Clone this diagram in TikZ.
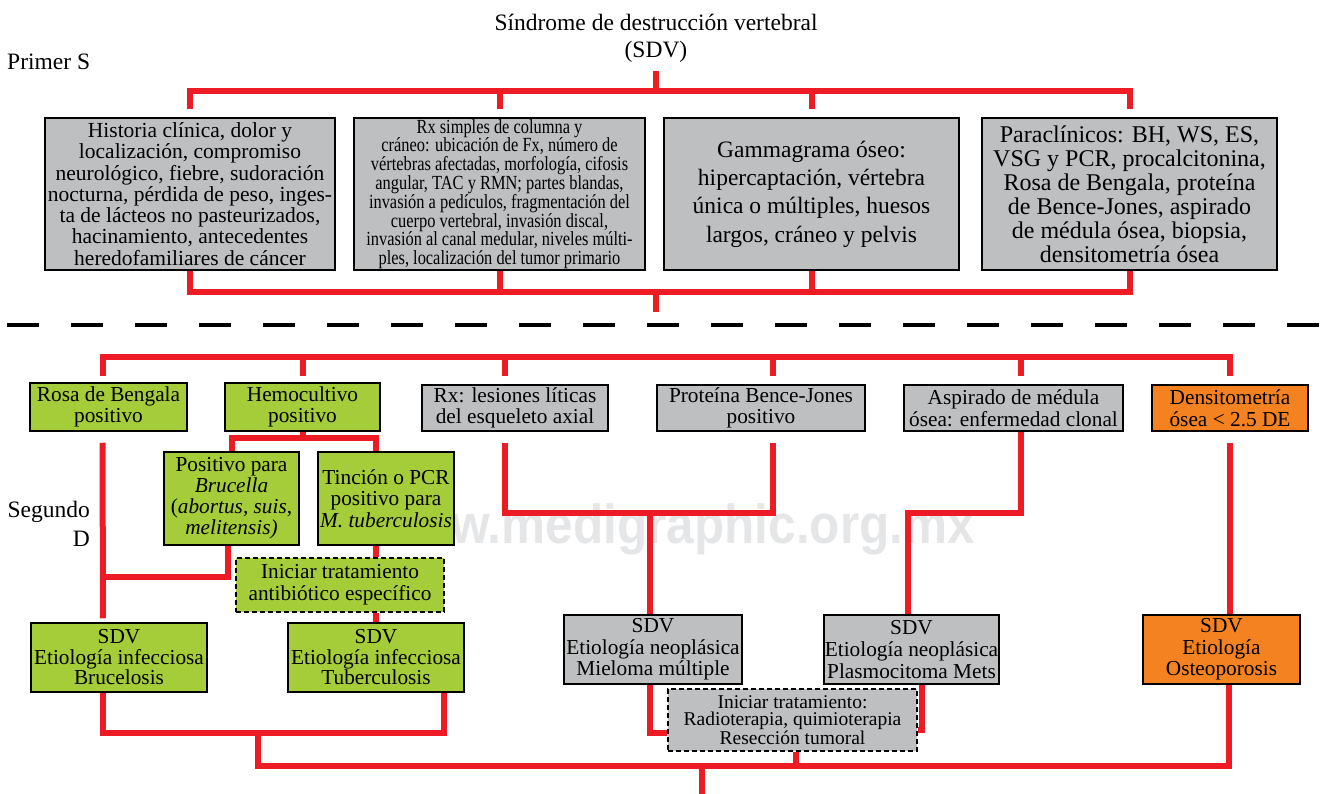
\documentclass[tikz,border=0pt]{standalone}
\usepackage{fontspec}
\setmainfont{Liberation Serif}
\newfontfamily\narrowfont{Liberation Serif}[FakeStretch=0.82]
\newfontfamily\markfont{Liberation Sans}[FakeStretch=0.9]
\usepackage{tikz}
\definecolor{boxgrey}{RGB}{190,191,193}
\definecolor{boxgreen}{RGB}{165,205,57}
\definecolor{boxorange}{RGB}{244,130,32}
\definecolor{linkred}{RGB}{237,28,36}
\definecolor{markgrey}{RGB}{229,230,232}

\begin{document}
\begin{tikzpicture}[x=1pt,y=-1pt,every node/.style={align=center,inner sep=0pt},
		greybox/.style={draw,line width=1.5pt,fill=boxgrey},
		greenbox/.style={draw,line width=1.5pt,fill=boxgreen},
		orangebox/.style={draw,line width=1.5pt,fill=boxorange},
		treatbox/.style={draw,line width=1.8pt,dash pattern=on 5pt off 3pt},
		link/.style={draw=linkred,line width=6pt},
		sidetext/.style={font=\fontsize{23.5}{29}\selectfont},
		lowertext/.style={font=\fontsize{21.3}{21.7}\selectfont}]
	\useasboundingbox (0,0) rectangle (1320,794);
	\node[anchor=base east,text=markgrey,font=\markfont\bfseries\fontsize{55}{55}\selectfont] (mark) at (975,543) {w.medigraphic.org.mx};

	\node[font=\fontsize{23.5}{27}\selectfont] (title) at (656,38) {Síndrome de destrucción vertebral\\(SDV)};
	\node[sidetext,anchor=base west] (primer) at (7,70) {Primer S};
	\node[sidetext,anchor=east,align=right] (segundo) at (90,524) {Segundo\\D};

	\node[greybox,minimum width=290,minimum height=152,font=\fontsize{21.5}{21.3}\selectfont] (hist) at (190,194)
		{Historia clínica, dolor y\\localización, compromiso\\neurológico, fiebre, sudoración\\nocturna, pérdida de peso, inges-\\ta de lácteos no pasteurizados,\\hacinamiento, antecedentes\\heredofamiliares de cáncer};
	\node[greybox,minimum width=291,minimum height=152,font=\narrowfont\fontsize{20}{18.8}\selectfont] (rxs) at (499.5,194)
		{Rx simples de columna y\\cráneo: ubicación de Fx, número de\\vértebras afectadas, morfología, cifosis\\angular, TAC y RMN; partes blandas,\\invasión a pedículos, fragmentación del\\cuerpo vertebral, invasión discal,\\invasión al canal medular, niveles múlti-\\ples, localización del tumor primario};
	\node[greybox,minimum width=295,minimum height=152,font=\fontsize{23.5}{28.3}\selectfont] (gamma) at (811.5,194)
		{Gammagrama óseo:\\hipercaptación, vértebra\\única o múltiples, huesos\\largos, cráneo y pelvis};
	\node[greybox,minimum width=295,minimum height=152,font=\fontsize{24}{24}\selectfont] (paracl) at (1129.5,194)
		{Paraclínicos: BH, WS, ES,\\VSG y PCR, procalcitonina,\\Rosa de Bengala, proteína\\de Bence-Jones, aspirado\\de médula ósea, biopsia,\\densitometría ósea};

	\node[greenbox,lowertext,minimum width=157,minimum height=48] (rosa) at (108.5,407) {Rosa de Bengala\\positivo};
	\node[greenbox,lowertext,minimum width=155,minimum height=48] (hemo) at (302.5,407) {Hemocultivo\\positivo};
	\node[greybox,lowertext,minimum width=186,minimum height=46] (rxlit) at (515,408) {Rx: lesiones líticas\\del esqueleto axial};
	\node[greybox,lowertext,minimum width=208,minimum height=46] (bence) at (761,408) {Proteína Bence-Jones\\positivo};
	\node[greybox,lowertext,minimum width=219,minimum height=46] (aspir) at (1013.5,408) {Aspirado de médula\\ósea: enfermedad clonal};
	\node[orangebox,lowertext,minimum width=156,minimum height=46] (densit) at (1230,408) {Densitometría\\ósea < 2.5 DE};

	\node[greenbox,font=\fontsize{21.3}{21}\selectfont,minimum width=135,minimum height=93] (brucella) at (231.5,498.5)
		{Positivo para\\\textit{Brucella}\\(\textit{abortus}, \textit{suis},\\\textit{melitensis)}};
	\node[greenbox,font=\fontsize{21.3}{21.7}\selectfont,minimum width=136,minimum height=93] (tincion) at (386,498.5)
		{Tinción o PCR\\positivo para\\\textit{M. tuberculosis}};
	\node[greenbox,treatbox,lowertext,minimum width=208,minimum height=54] (iniantib) at (340,585) {Iniciar tratamiento\\antibiótico específico};
	\node[greenbox,font=\fontsize{21.3}{20.5}\selectfont,minimum width=176,minimum height=69] (sdvbru) at (119,657.5) {SDV\\Etiología infecciosa\\Brucelosis};
	\node[greenbox,font=\fontsize{21.3}{20.5}\selectfont,minimum width=176,minimum height=69] (tuber) at (376,657.5) {SDV\\Etiología infecciosa\\Tuberculosis};

	\node[greybox,lowertext,minimum width=178,minimum height=69] (mieloma) at (653,649.5) {SDV\\Etiología neoplásica\\Mieloma múltiple};
	\node[greybox,lowertext,minimum width=175,minimum height=69] (plasmo) at (911.5,649.5) {SDV\\Etiología neoplásica\\Plasmocitoma Mets};
	\node[orangebox,lowertext,minimum width=157,minimum height=69] (osteo) at (1221.5,649.5) {SDV\\Etiología\\Osteoporosis};
	\node[greybox,treatbox,font=\fontsize{19.5}{17.5}\selectfont,minimum width=249,minimum height=62] (initrat) at (792.5,720)
		{Iniciar tratamiento:\\Radioterapia, quimioterapia\\Resección tumoral};

	\coordinate (topbar) at (656,91);
	\coordinate (botbar) at (656,292);
	\coordinate (primerend) at (656,312);
	\draw[link,shorten <=9pt] (title.south) -- (topbar);
	\draw[link,shorten <=8pt] (hist.north) |- (topbar);
	\draw[link,shorten <=8pt] (rxs.north) |- (topbar);
	\draw[link,shorten <=8pt] (gamma.north) |- (topbar);
	\draw[link,shorten <=8pt] (paracl.north) |- (topbar);
	\draw[link] (hist.south) |- (botbar);
	\draw[link] (rxs.south) |- (botbar);
	\draw[link] (gamma.south) |- (botbar);
	\draw[link] (paracl.south) |- (botbar);
	\draw[link] (botbar) -- (primerend);

	\draw[line width=3.3pt,dash pattern=on 32pt off 32pt] (7,325) -- (1320,325);

	\coordinate (segbar) at (656,357);
	\draw[link,shorten <=6pt] ([xshift=-6pt]rosa.north) |- (segbar);
	\draw[link,shorten <=6pt] (hemo.north) |- (segbar);
	\draw[link,shorten <=8pt] ([xshift=-10pt]rxlit.north) |- (segbar);
	\draw[link,shorten <=8pt] ([xshift=12pt]bence.north) |- (segbar);
	\draw[link,shorten <=8pt] ([xshift=7.5pt]aspir.north) |- (segbar);
	\draw[link,shorten <=8pt] (densit.north) |- (segbar);

	\coordinate (hemojoin) at (302.5,438);
	\draw[link] (hemo.south) -- (hemojoin);
	\draw[link] (brucella.north) |- (hemojoin) -| (tuber.north |- tincion.north);
	\draw[link] (tuber.north |- tincion.south) -- (tuber.north |- iniantib.north);
	\draw[link] (tuber.north |- iniantib.south) -- (tuber.north);
	\coordinate (brujoin) at (103,577);
	\draw[link] ([xshift=-3.5pt]brucella.south) |- (brujoin);
	\draw[link,shorten <=11pt,shorten >=4pt] ([xshift=-6pt]rosa.south) -- ([xshift=-16pt]sdvbru.north);
	\coordinate (infjoin) at (258,733);
	\draw[link] ([xshift=-16pt]sdvbru.south) |- (infjoin) -| ([xshift=68pt]tuber.south);

	\coordinate (neojoin) at (650,513);
	\draw[link,shorten <=11pt,shorten >=11pt] ([xshift=-10pt]rxlit.south) |- (neojoin) -| ([xshift=12pt]bence.south);
	\draw[link] (neojoin) -- (neojoin |- mieloma.north);
	\coordinate (aspjoin) at (908,513);
	\draw[link] ([xshift=7.5pt]aspir.south) |- (aspjoin) -- (aspjoin |- plasmo.north);
	\draw[link] (mieloma.south -| neojoin) |- ([yshift=-13pt]initrat.west);
	\draw[link] ([xshift=10.5pt]plasmo.south) |- ([yshift=-10pt]initrat.east);
	\draw[link,shorten <=11pt] (densit.south) -- (densit.south |- osteo.north);

	\coordinate (finalbar) at (702,766);
	\coordinate (finalend) at (702,794);
	\draw[link] (infjoin) |- (finalbar);
	\draw[link] ([xshift=3.5pt]initrat.south) -- ([xshift=3.5pt]initrat.south |- finalbar);
	\draw[link] ([xshift=7.5pt]osteo.south) |- (finalbar);
	\draw[link] (finalbar) -- (finalend);
\end{tikzpicture}
\end{document}
